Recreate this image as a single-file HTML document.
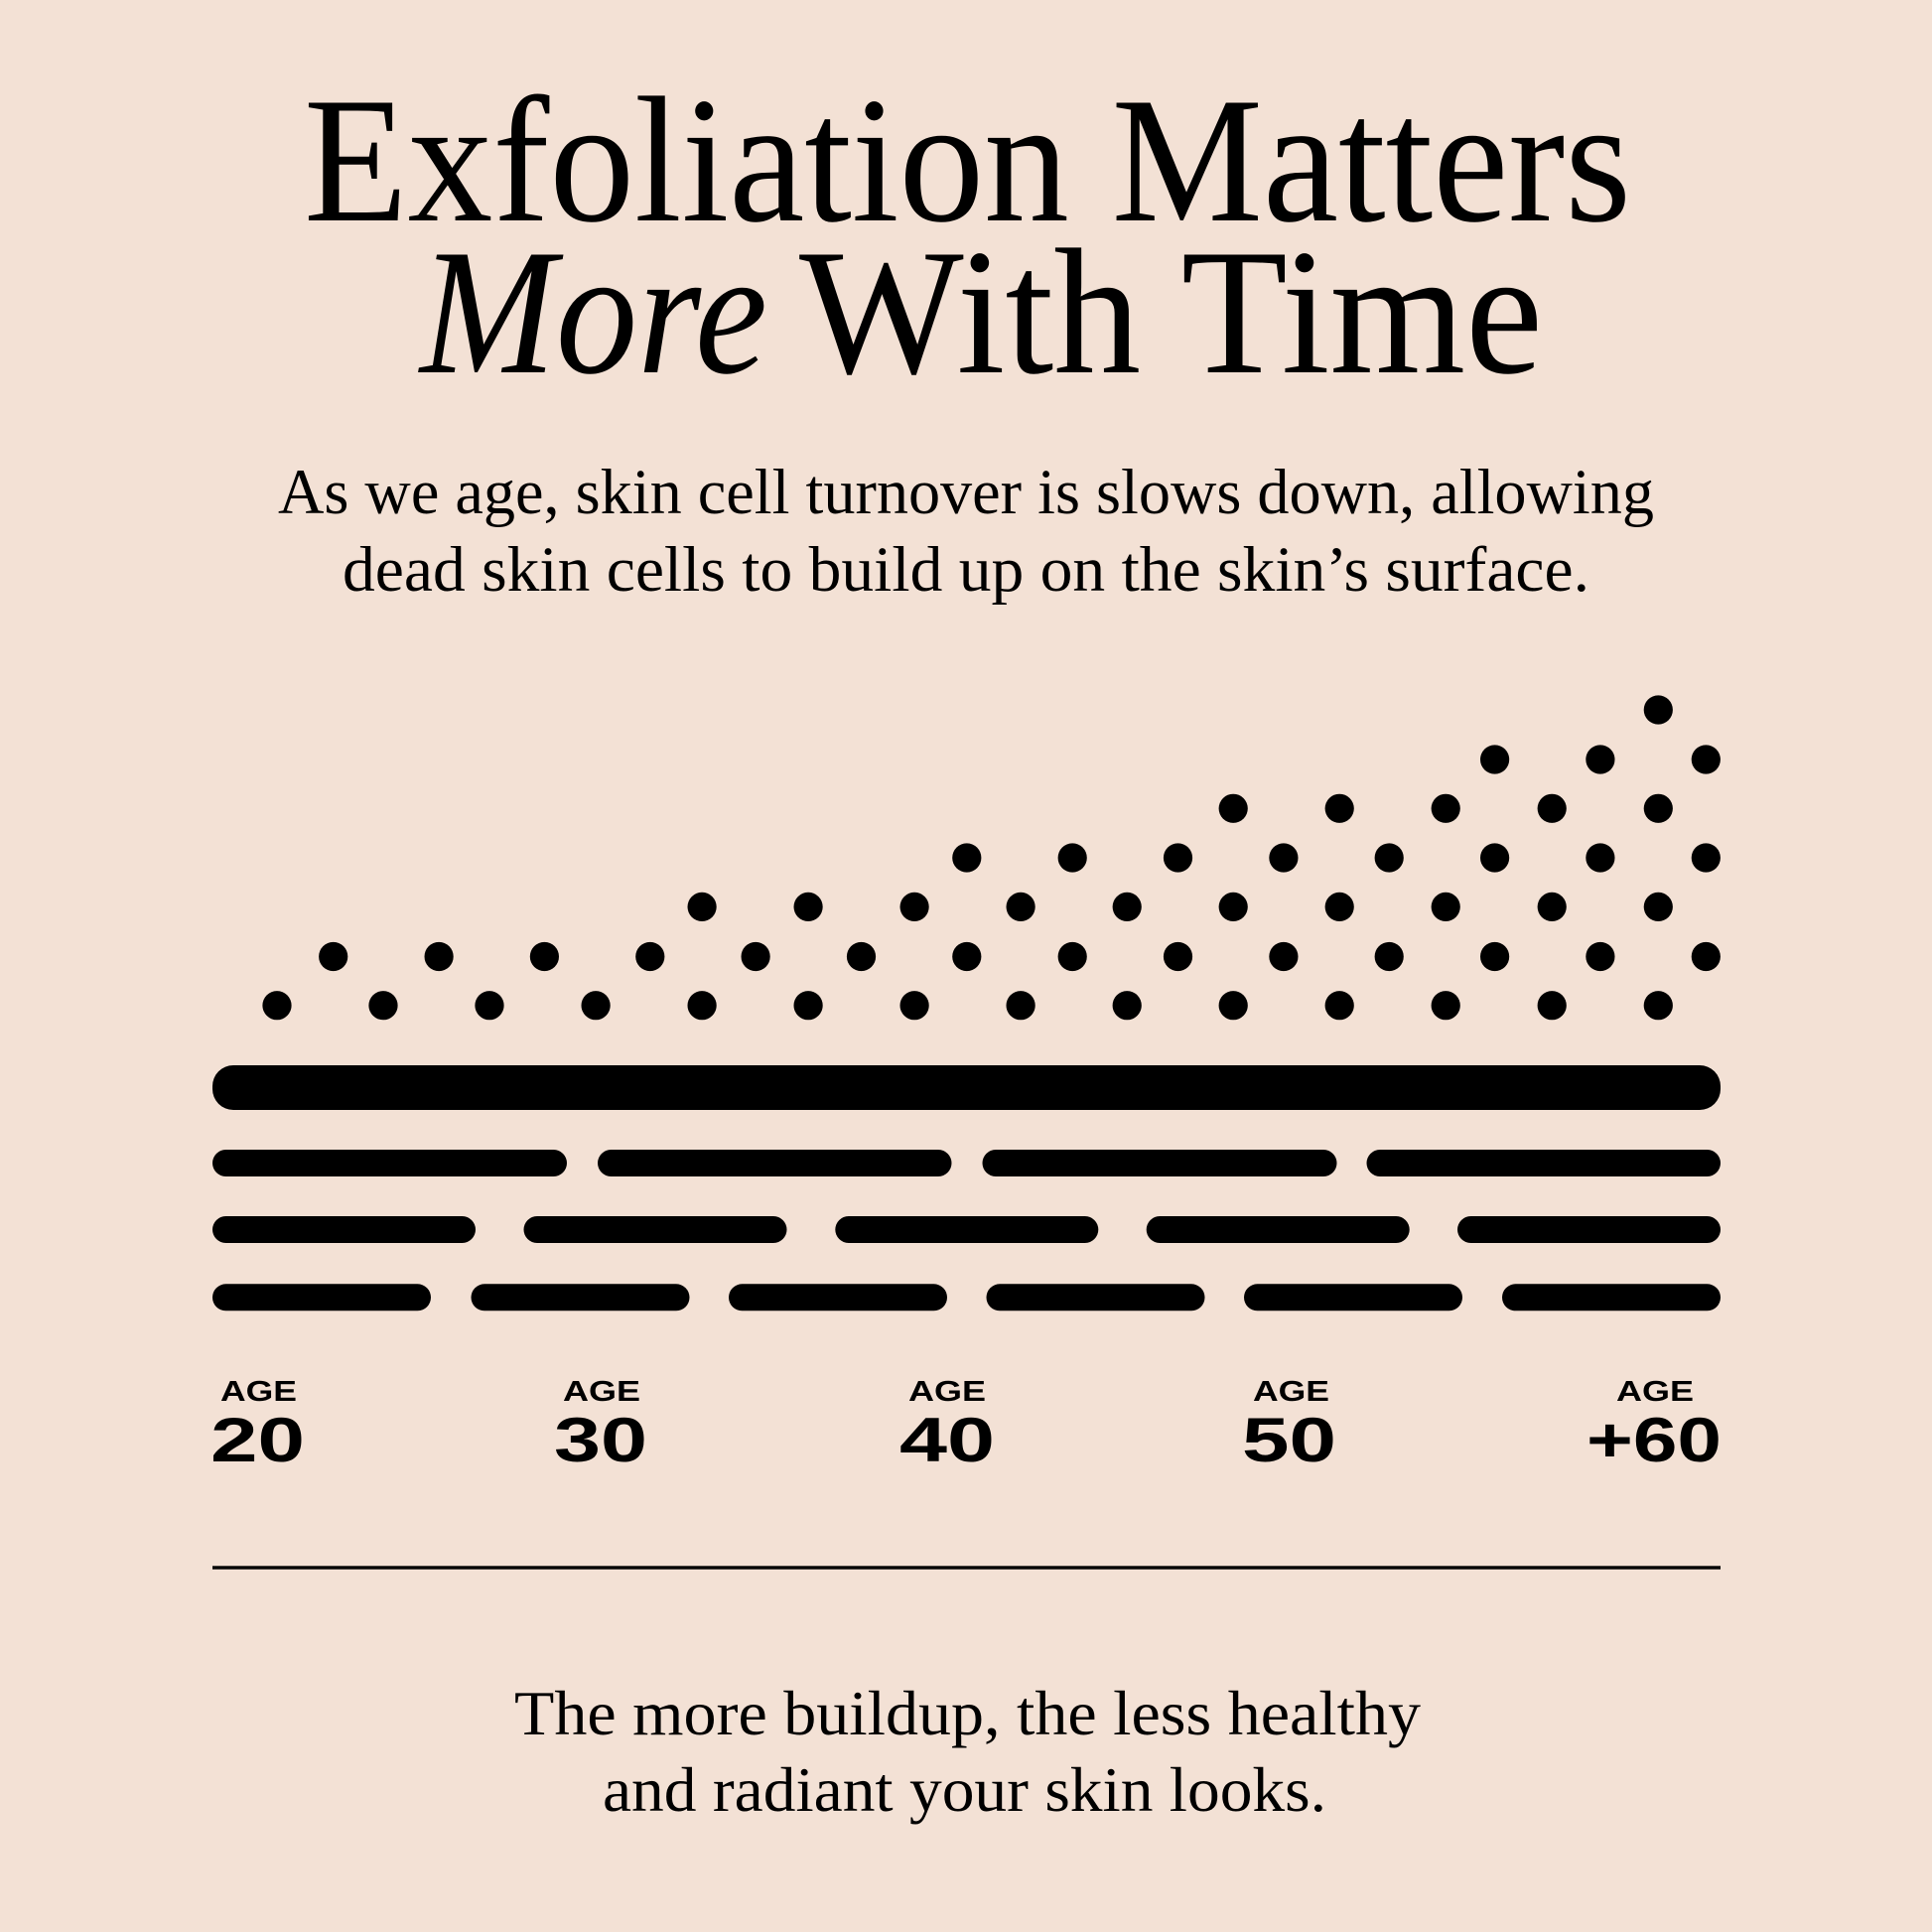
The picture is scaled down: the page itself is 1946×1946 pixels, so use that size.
<!DOCTYPE html>
<html>
<head>
<meta charset="utf-8">
<style>
  html, body { margin: 0; padding: 0; background: #f3e1d5; }
  svg { display: block; }
  .serif { font-family: "Liberation Serif", "DejaVu Serif", serif; fill: #000; }
  .sans { font-family: "Liberation Sans", "DejaVu Sans", sans-serif; font-weight: 700; fill: #000; }
</style>
</head>
<body>
<svg width="1946" height="1946" viewBox="0 0 1946 1946" xmlns="http://www.w3.org/2000/svg">
  <rect x="0" y="0" width="1946" height="1946" fill="#f3e1d5"/>

  <!-- Title -->
  <text class="serif" x="306" y="222" font-size="181" textLength="1337" lengthAdjust="spacingAndGlyphs">Exfoliation Matters</text>
  <text class="serif" x="423" y="375" font-size="181" font-style="italic" textLength="350" lengthAdjust="spacingAndGlyphs">More</text>
  <text class="serif" x="805" y="375" font-size="181" textLength="749" lengthAdjust="spacingAndGlyphs">With Time</text>

  <!-- Subtitle -->
  <text class="serif" x="280" y="517" font-size="65" textLength="1386" lengthAdjust="spacingAndGlyphs">As we age, skin cell turnover is slows down, allowing</text>
  <text class="serif" x="345" y="595" font-size="65" textLength="1256" lengthAdjust="spacingAndGlyphs">dead skin cells to build up on the skin’s surface.</text>

  <!-- Dots -->
  <g fill="#000">
    <!-- row y=1012.7 : A0..13 -->
    <circle cx="279" cy="1012.7" r="14.6"/><circle cx="386" cy="1012.7" r="14.6"/><circle cx="493" cy="1012.7" r="14.6"/><circle cx="600.1" cy="1012.7" r="14.6"/><circle cx="707.1" cy="1012.7" r="14.6"/><circle cx="814.1" cy="1012.7" r="14.6"/><circle cx="921.1" cy="1012.7" r="14.6"/><circle cx="1028.1" cy="1012.7" r="14.6"/><circle cx="1135.2" cy="1012.7" r="14.6"/><circle cx="1242.2" cy="1012.7" r="14.6"/><circle cx="1349.2" cy="1012.7" r="14.6"/><circle cx="1456.2" cy="1012.7" r="14.6"/><circle cx="1563.2" cy="1012.7" r="14.6"/><circle cx="1670.3" cy="1012.7" r="14.6"/>
    <!-- row y=963.5 : B0..13 -->
    <circle cx="335.7" cy="963.5" r="14.6"/><circle cx="442.1" cy="963.5" r="14.6"/><circle cx="548.4" cy="963.5" r="14.6"/><circle cx="654.8" cy="963.5" r="14.6"/><circle cx="761.1" cy="963.5" r="14.6"/><circle cx="867.5" cy="963.5" r="14.6"/><circle cx="973.8" cy="963.5" r="14.6"/><circle cx="1080.2" cy="963.5" r="14.6"/><circle cx="1186.5" cy="963.5" r="14.6"/><circle cx="1292.9" cy="963.5" r="14.6"/><circle cx="1399.2" cy="963.5" r="14.6"/><circle cx="1505.6" cy="963.5" r="14.6"/><circle cx="1611.9" cy="963.5" r="14.6"/><circle cx="1718.3" cy="963.5" r="14.6"/>
    <!-- row y=913.4 : A4..13 -->
    <circle cx="707.1" cy="913.4" r="14.6"/><circle cx="814.1" cy="913.4" r="14.6"/><circle cx="921.1" cy="913.4" r="14.6"/><circle cx="1028.1" cy="913.4" r="14.6"/><circle cx="1135.2" cy="913.4" r="14.6"/><circle cx="1242.2" cy="913.4" r="14.6"/><circle cx="1349.2" cy="913.4" r="14.6"/><circle cx="1456.2" cy="913.4" r="14.6"/><circle cx="1563.2" cy="913.4" r="14.6"/><circle cx="1670.3" cy="913.4" r="14.6"/>
    <!-- row y=864 : B6..13 -->
    <circle cx="973.8" cy="864" r="14.6"/><circle cx="1080.2" cy="864" r="14.6"/><circle cx="1186.5" cy="864" r="14.6"/><circle cx="1292.9" cy="864" r="14.6"/><circle cx="1399.2" cy="864" r="14.6"/><circle cx="1505.6" cy="864" r="14.6"/><circle cx="1611.9" cy="864" r="14.6"/><circle cx="1718.3" cy="864" r="14.6"/>
    <!-- row y=814.3 : A9..13 -->
    <circle cx="1242.2" cy="814.3" r="14.6"/><circle cx="1349.2" cy="814.3" r="14.6"/><circle cx="1456.2" cy="814.3" r="14.6"/><circle cx="1563.2" cy="814.3" r="14.6"/><circle cx="1670.3" cy="814.3" r="14.6"/>
    <!-- row y=765 : B11..13 -->
    <circle cx="1505.6" cy="765" r="14.6"/><circle cx="1611.9" cy="765" r="14.6"/><circle cx="1718.3" cy="765" r="14.6"/>
    <!-- row y=715 : A13 -->
    <circle cx="1670.3" cy="715" r="14.6"/>
  </g>

  <!-- Bars -->
  <g fill="#000">
    <rect x="214" y="1073" width="1519" height="45" rx="21" ry="21"/>

    <rect x="214" y="1158" width="357" height="27" rx="13.5" ry="13.5"/>
    <rect x="602" y="1158" width="356.5" height="27" rx="13.5" ry="13.5"/>
    <rect x="989.5" y="1158" width="357" height="27" rx="13.5" ry="13.5"/>
    <rect x="1376.5" y="1158" width="356.5" height="27" rx="13.5" ry="13.5"/>

    <rect x="214" y="1225" width="265" height="27" rx="13.5" ry="13.5"/>
    <rect x="527.5" y="1225" width="265" height="27" rx="13.5" ry="13.5"/>
    <rect x="841.3" y="1225" width="265" height="27" rx="13.5" ry="13.5"/>
    <rect x="1154.7" y="1225" width="265" height="27" rx="13.5" ry="13.5"/>
    <rect x="1468" y="1225" width="265" height="27" rx="13.5" ry="13.5"/>

    <rect x="214" y="1293.3" width="220" height="27" rx="13.5" ry="13.5"/>
    <rect x="474.5" y="1293.3" width="220" height="27" rx="13.5" ry="13.5"/>
    <rect x="734" y="1293.3" width="220" height="27" rx="13.5" ry="13.5"/>
    <rect x="993.5" y="1293.3" width="220" height="27" rx="13.5" ry="13.5"/>
    <rect x="1253" y="1293.3" width="220" height="27" rx="13.5" ry="13.5"/>
    <rect x="1513" y="1293.3" width="220" height="27" rx="13.5" ry="13.5"/>
  </g>

  <!-- Age labels -->
  <text class="sans" x="222" y="1411" font-size="29" textLength="77" lengthAdjust="spacingAndGlyphs">AGE</text>
  <text class="sans" x="212" y="1472" font-size="63" textLength="95" lengthAdjust="spacingAndGlyphs">20</text>

  <text class="sans" x="567" y="1411" font-size="29" textLength="78" lengthAdjust="spacingAndGlyphs">AGE</text>
  <text class="sans" x="558" y="1472" font-size="63" textLength="94" lengthAdjust="spacingAndGlyphs">30</text>

  <text class="sans" x="915" y="1411" font-size="29" textLength="78" lengthAdjust="spacingAndGlyphs">AGE</text>
  <text class="sans" x="906" y="1472" font-size="63" textLength="96" lengthAdjust="spacingAndGlyphs">40</text>

  <text class="sans" x="1262" y="1411" font-size="29" textLength="77" lengthAdjust="spacingAndGlyphs">AGE</text>
  <text class="sans" x="1251" y="1472" font-size="63" textLength="95" lengthAdjust="spacingAndGlyphs">50</text>

  <text class="sans" x="1628" y="1411" font-size="29" textLength="78" lengthAdjust="spacingAndGlyphs">AGE</text>
  <text class="sans" x="1598" y="1472" font-size="63" textLength="136" lengthAdjust="spacingAndGlyphs">+60</text>

  <!-- Divider -->
  <rect x="214" y="1577.3" width="1519" height="3.4" fill="#000"/>

  <!-- Bottom text -->
  <text class="serif" x="518" y="1747" font-size="64" textLength="913" lengthAdjust="spacingAndGlyphs">The more buildup, the less healthy</text>
  <text class="serif" x="607" y="1824" font-size="64" textLength="729" lengthAdjust="spacingAndGlyphs">and radiant your skin looks.</text>
</svg>
</body>
</html>
